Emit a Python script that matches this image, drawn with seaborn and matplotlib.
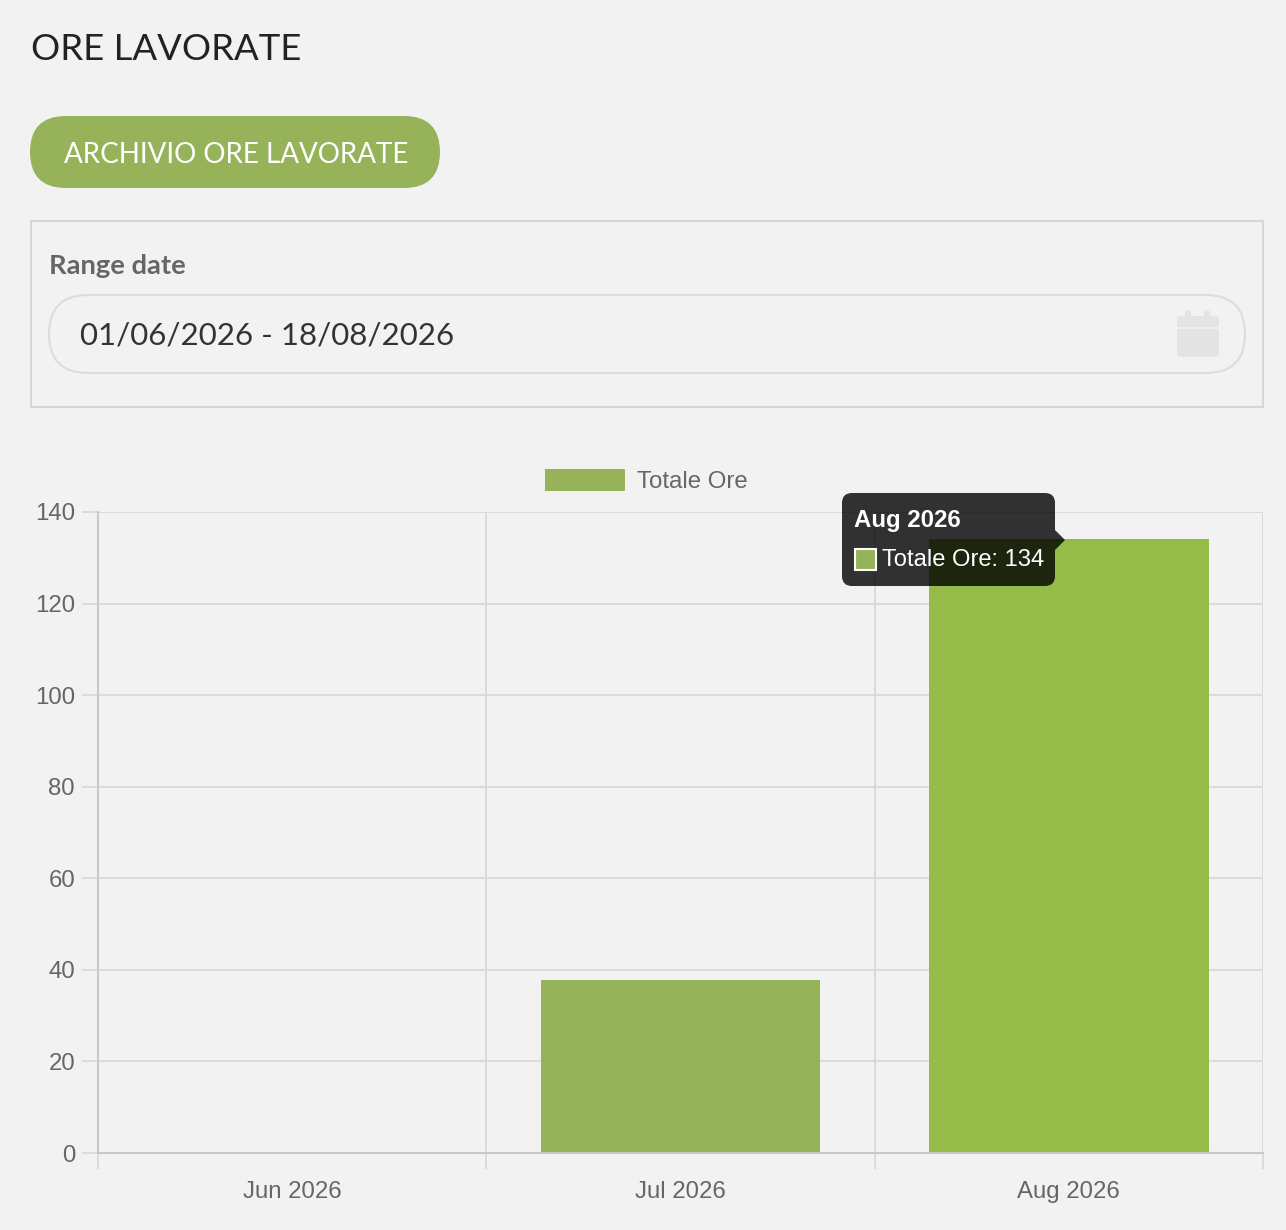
import numpy as np
import pandas as pd
import matplotlib
matplotlib.use('Agg')
import matplotlib.pyplot as plt
import seaborn as sns
from matplotlib.patches import FancyBboxPatch, Rectangle, Polygon, Patch

# chart data
months = ['Jun 2026', 'Jul 2026', 'Aug 2026']
hours = [0, 37.7, 134]
bar_colors = ['#97B35A', '#97B35A', '#95BB49']   # last one is the hovered bar
y_ticks = [0, 20, 40, 60, 80, 100, 120, 140]
series_name = 'Totale Ore'
page_title = 'ORE LAVORATE'
button_label = 'ARCHIVIO ORE LAVORATE'
range_label = 'Range date'
range_value = '01/06/2026 - 18/08/2026'
hover_index = 2

BG = '#F2F2F2'
W, H = 1286, 1230

sns.set_theme(style='white', rc={'figure.facecolor': BG, 'axes.facecolor': BG})
plt.rcParams['font.family'] = ['Liberation Sans', 'DejaVu Sans']

fig = plt.figure(figsize=(W / 100, H / 100), dpi=100)


def px_rect(x0, y0, x1, y1):
    """pixel box (top-left origin) -> figure fraction rect"""
    return [x0 / W, 1 - y1 / H, (x1 - x0) / W, (y1 - y0) / H]


# ---- chart ----
ax = fig.add_axes(px_rect(98, 512, 1263, 1153))
ax.set_zorder(1)
df = pd.DataFrame({'month': months, 'hours': hours})
sns.barplot(data=df, x='month', y='hours', hue='month', palette=bar_colors,
            width=0.72, saturation=1, linewidth=0, legend=False, ax=ax)
ax.set_xlim(-0.5, len(months) - 0.5)
ax.set_ylim(0, 140)
ax.set_yticks(y_ticks)
ax.set_xlabel('')
ax.set_ylabel('')

grid_c = '#D9D9D9'
ax.set_xticks(np.arange(len(months) + 1) - 0.5, minor=True)
ax.tick_params(axis='x', which='major', length=0, pad=20.5, labelsize=17.3, labelcolor='#666666')
ax.tick_params(axis='x', which='minor', length=11.5, width=1.3, color=grid_c, bottom=True)
ax.tick_params(axis='y', which='major', length=11.5, width=1.3, color=grid_c, pad=5,
               labelsize=17.3, labelcolor='#666666', left=True)
ax.grid(True, axis='y', which='major', color=grid_c, lw=1.3)
ax.grid(True, axis='x', which='minor', color=grid_c, lw=1.3)
ax.grid(False, axis='x', which='major')
ax.set_axisbelow(True)
for side in ['top', 'right']:
    ax.spines[side].set_visible(False)
for side in ['left', 'bottom']:
    ax.spines[side].set_color('#C8C8C8')
    ax.spines[side].set_linewidth(1.5)

leg = fig.legend(handles=[Patch(facecolor=bar_colors[0], edgecolor='none', label=series_name)],
                 loc='center', bbox_to_anchor=(646 / W, 1 - 481 / H), frameon=False,
                 handlelength=3.33, handleheight=1.0, handletextpad=0.5,
                 prop={'size': 17.3})
for t in leg.get_texts():
    t.set_color('#666666')

# ---- page widgets and tooltip, drawn in pixel space ----
ui = fig.add_axes([0, 0, 1, 1])
ui.set_zorder(5)
ui.set_xlim(0, W)
ui.set_ylim(H, 0)
ui.axis('off')
ui.patch.set_alpha(0)

ui.text(31, 50, page_title, family='Lato', fontsize=26.3, color='#222222', va='center', ha='left')

ui.add_patch(FancyBboxPatch((30, 116), 410, 72, boxstyle='round,pad=0,rounding_size=36',
                            fc='#97B35A', ec='none'))
ui.text(236, 155, button_label, family='Lato', fontsize=20, color='white', va='center', ha='center')

ui.add_patch(Rectangle((31, 221), 1232, 186, fc='none', ec='#D6D6D6', lw=1.5))
ui.text(49, 266, range_label, family='Lato', fontweight='bold', fontsize=19.7,
        color='#666666', va='center', ha='left')
ui.add_patch(FancyBboxPatch((49, 295), 1196, 78, boxstyle='round,pad=0,rounding_size=39',
                            fc='none', ec='#DCDCDC', lw=1.5))
ui.text(80, 336, range_value, family='Lato', fontsize=22.5, color='#333333', va='center', ha='left')

# calendar icon
ui.add_patch(FancyBboxPatch((1177, 316), 42, 41, boxstyle='round,pad=0,rounding_size=4',
                            fc='#E4E4E4', ec='none'))
ui.plot([1177, 1219], [328, 328], color=BG, lw=1.2)
for cx in (1188, 1207):
    ui.add_patch(FancyBboxPatch((cx - 3, 310), 6, 10, boxstyle='round,pad=0,rounding_size=3',
                                fc='#E4E4E4', ec='none'))

# tooltip for hovered bar
tip = (0, 0, 0, 0.8)
ui.add_patch(FancyBboxPatch((842, 493), 213, 93, boxstyle='round,pad=0,rounding_size=10',
                            fc=tip, ec='none'))
ui.add_patch(Polygon([(1055, 530), (1065, 540), (1055, 550)], closed=True, fc=tip, ec='none'))
ui.text(854, 520, months[hover_index], fontsize=17.3, fontweight='bold', color='white',
        va='center', ha='left')
ui.add_patch(Rectangle((855, 549), 21, 21, fc=bar_colors[0], ec='white', lw=1.5))
ui.text(882, 560, f'{series_name}: {hours[hover_index]:.0f}', fontsize=17.1, color='white',
        va='center', ha='left')

fig.savefig('out.png', dpi=100, facecolor=BG)
